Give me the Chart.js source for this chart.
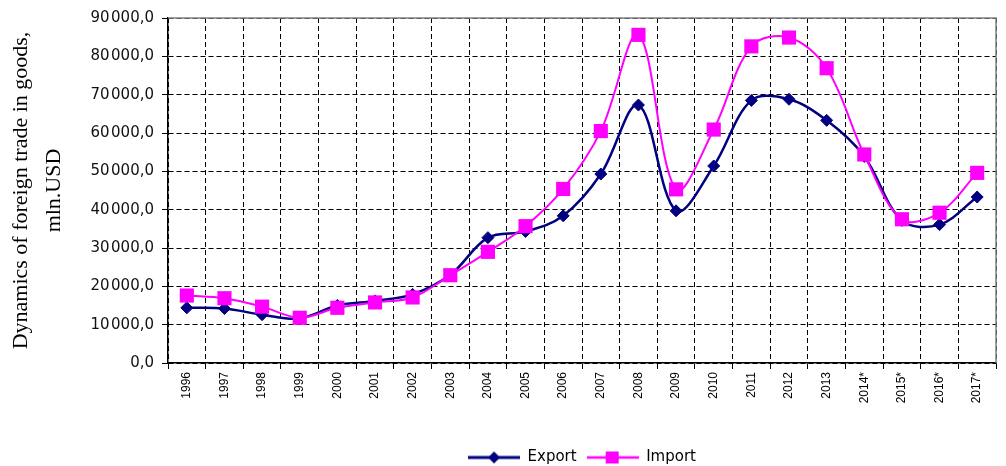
<!DOCTYPE html>
<html>
<head>
<meta charset="utf-8">
<script src="https://cdn.jsdelivr.net/npm/chart.js@4/dist/chart.umd.min.js"></script>
<style>
html,body{margin:0;padding:0;background:#fff;}
#wrap{width:1006px;height:466px;position:relative;}
</style>
</head>
<body>
<div id="wrap"><canvas id="c" width="1006" height="466"></canvas></div>
<script>
const years = ['1996','1997','1998','1999','2000','2001','2002','2003','2004','2005','2006','2007','2008','2009','2010','2011','2012','2013','2014*','2015*','2016*','2017*'];
const exportValues = [14400,14200,12600,11600,15000,16200,17900,23000,32700,34300,38400,49300,67300,39700,51400,68500,68800,63300,53900,37200,36100,43300];
const importValues = [17600,16900,14700,11800,14400,15800,17100,22900,29000,35700,45400,60500,85600,45300,60900,82600,84900,76900,54400,37500,39200,49600];
const yTickValues = [0,10000,20000,30000,40000,50000,60000,70000,80000,90000];
const yTitle = ['Dynamics of foreign trade in goods,', 'mln.USD'];

const EXPORT_COLOR = '#000080';
const IMPORT_COLOR = '#ff00ff';

function formatTick(v) {
  const s = v.toFixed(1).replace('.', ',');
  const [intPart, dec] = s.split(',');
  const grouped = intPart.replace(/\B(?=(\d{3})+(?!\d))/g, '\u200A');
  return grouped + ',' + dec;
}

function legendImage(color, shape) {
  const cv = document.createElement('canvas');
  cv.width = 52; cv.height = 14;
  const g = cv.getContext('2d');
  g.strokeStyle = color; g.lineWidth = shape === 'diamond' ? 3 : 2.5;
  g.beginPath(); g.moveTo(0, 7); g.lineTo(52, 7); g.stroke();
  g.fillStyle = color;
  if (shape === 'diamond') {
    g.beginPath(); g.moveTo(26, 1); g.lineTo(32, 7); g.lineTo(26, 13); g.lineTo(20, 7); g.closePath(); g.fill();
  } else {
    g.fillRect(19, 1, 13, 12);
  }
  return cv;
}
const legendImgs = [legendImage(EXPORT_COLOR, 'diamond'), legendImage(IMPORT_COLOR, 'square')];

const frame = {
  id: 'frame',
  afterLayout(chart) {
    if (chart.legend) { chart.legend.top += 9; chart.legend.bottom += 9; }
  },
  beforeDatasetsDraw(chart) {
    const a = chart.chartArea, ctx = chart.ctx;
    ctx.save();
    ctx.strokeStyle = '#808080';
    ctx.lineWidth = 1.5;
    ctx.beginPath();
    ctx.moveTo(a.left, a.top); ctx.lineTo(a.right, a.top); ctx.lineTo(a.right, a.bottom);
    ctx.stroke();
    ctx.restore();
  }
};

new Chart(document.getElementById('c'), {
  type: 'line',
  data: {
    labels: years,
    datasets: [
      {
        label: 'Export', data: exportValues,
        borderColor: EXPORT_COLOR, backgroundColor: EXPORT_COLOR,
        borderWidth: 2.5, tension: 0.35,
        pointStyle: 'rectRot', pointRadius: 6, pointHoverRadius: 6,
        pointBackgroundColor: EXPORT_COLOR, pointBorderColor: EXPORT_COLOR, pointBorderWidth: 1,
        order: 1
      },
      {
        label: 'Import', data: importValues,
        borderColor: IMPORT_COLOR, backgroundColor: IMPORT_COLOR,
        borderWidth: 2, tension: 0.35,
        pointStyle: 'rect', pointRadius: 10, pointHoverRadius: 10,
        pointBackgroundColor: IMPORT_COLOR, pointBorderColor: IMPORT_COLOR, pointBorderWidth: 0,
        order: 0
      }
    ]
  },
  options: {
    responsive: false,
    animation: false,
    layout: { padding: { top: 18, right: 2, left: 0, bottom: 0 } },
    plugins: {
      tooltip: { enabled: false },
      legend: {
        position: 'bottom',
        fullSize: false,
        labels: {
          usePointStyle: true,
          pointStyleWidth: 52,
          padding: 10,
          color: '#000',
          font: { family: 'DejaVu Sans', size: 15 },
          generateLabels(chart) {
            return chart.data.datasets.map((ds, i) => ({
              text: ds.label, pointStyle: legendImgs[i], fillStyle: ds.borderColor,
              strokeStyle: ds.borderColor, lineWidth: 0, hidden: false, datasetIndex: i, fontColor: '#000'
            }));
          }
        }
      }
    },
    scales: {
      x: {
        offset: true,
        grid: { offset: true, color: '#000', lineWidth: 1, tickLength: 6, tickColor: '#000', tickBorderDash: [] },
        border: { display: true, color: '#000', width: 1.5, dash: [5, 3] },
        ticks: {
          autoSkip: false, maxRotation: 90, minRotation: 90, padding: 3,
          color: '#000', font: { family: 'Liberation Sans', size: 12 }
        },
        afterFit(s) { s.height = 68; }
      },
      y: {
        min: 0, max: 90000,
        afterBuildTicks(s) { s.ticks = yTickValues.map(v => ({ value: v })); },
        grid: { color: '#000', lineWidth: 1, tickLength: 6, tickColor: '#000', tickBorderDash: [] },
        border: { display: true, color: '#000', width: 1.5, dash: [5, 3] },
        ticks: {
          padding: 8, color: '#111', font: { family: 'DejaVu Sans', size: 15 },
          callback(v) { return formatTick(v); }
        },
        title: {
          display: true, text: yTitle, color: '#000',
          font: { family: 'Liberation Serif', size: 22, lineHeight: 1.5 },
          padding: { top: 5, bottom: 0 }
        },
        afterFit(s) { s.width = 168; }
      }
    }
  },
  plugins: [frame]
});
</script>
</body>
</html>
